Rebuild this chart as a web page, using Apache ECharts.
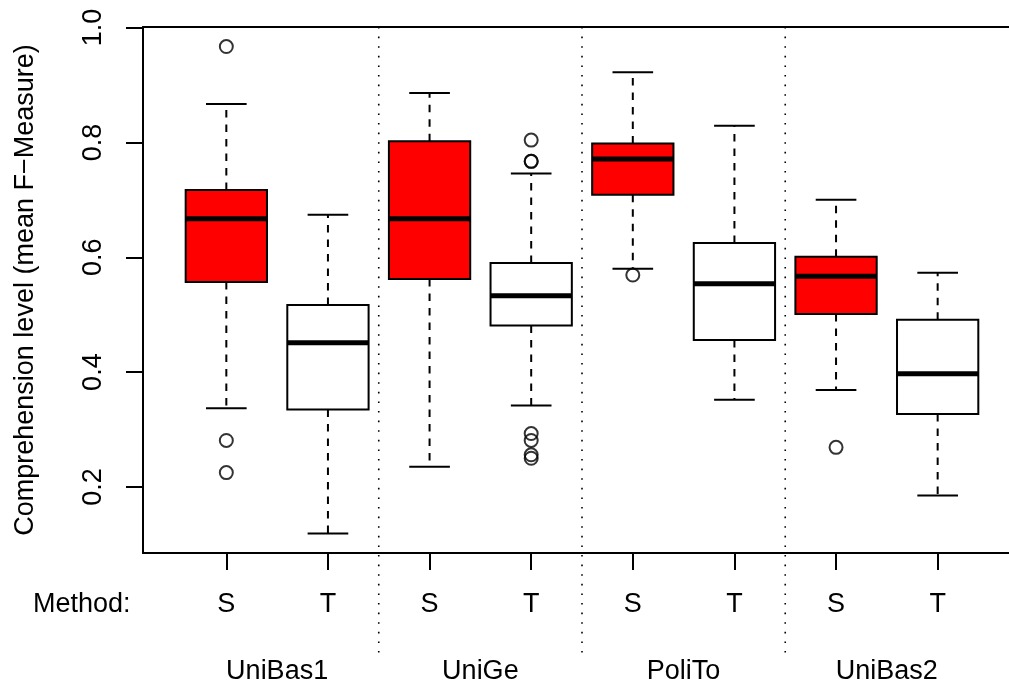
<!DOCTYPE html>
<html>
<head>
<meta charset="utf-8">
<script src="https://cdn.jsdelivr.net/npm/echarts@6/dist/echarts.min.js"></script>
<style>
  html, body { margin: 0; padding: 0; background: #fff; }
  #chart { width: 1009px; height: 686px; }
</style>
</head>
<body>
<div id="chart"></div>
<script>
// Comprehension level per site and method (five-number summaries + outliers)
const groups = ['UniBas1', 'UniGe', 'PoliTo', 'UniBas2'];
const methods = ['S', 'T', 'S', 'T', 'S', 'T', 'S', 'T'];
const isS = [1, 0, 1, 0, 1, 0, 1, 0];
const whiskerLow  = [0.337, 0.119, 0.235, 0.342, 0.580, 0.352, 0.369, 0.185];
const quart1      = [0.557, 0.335, 0.562, 0.481, 0.709, 0.456, 0.501, 0.327];
const medians     = [0.667, 0.451, 0.667, 0.533, 0.771, 0.554, 0.567, 0.397];
const quart3      = [0.717, 0.517, 0.802, 0.590, 0.798, 0.625, 0.601, 0.491];
const whiskerHigh = [0.867, 0.674, 0.886, 0.746, 0.922, 0.829, 0.700, 0.573];
// outliers: box position (1..8) and value
const outlierBox   = [1, 1, 1, 4, 4, 4, 4, 4, 4, 4, 5, 7];
const outlierValue = [0.967, 0.281, 0.225, 0.804, 0.767, 0.767, 0.293, 0.281, 0.256, 0.250, 0.569, 0.269];
const yTicks = [0.2, 0.4, 0.6, 0.8, 1.0];
const dividers = [2.5, 4.5, 6.5];

const FONT = '"Liberation Sans", Arial, Helvetica, sans-serif';
const FS = 27;

const boxData = methods.map((m, i) => [i + 1, whiskerLow[i], quart1[i], medians[i], quart3[i], whiskerHigh[i], isS[i]]);
const outlierData = outlierBox.map((b, i) => [b, outlierValue[i]]);
const dividerData = dividers.map(d => [d, 1.001]);

function renderBox(params, api) {
  const x = api.value(0);
  const lo = api.value(1), q1 = api.value(2), md = api.value(3), q3 = api.value(4), hi = api.value(5);
  const fill = api.value(6) ? '#ff0000' : '#ffffff';
  const hw = 0.4, cw = 0.2;
  const tl = api.coord([x - hw, q3]);
  const br = api.coord([x + hw, q1]);
  const stroke = { stroke: '#000', lineWidth: 2 };
  const dashed = { stroke: '#000', lineWidth: 2, lineDash: [7.5, 7] };
  const seg = (a, b, style) => {
    const p = api.coord(a), q = api.coord(b);
    return { type: 'line', shape: { x1: p[0], y1: p[1], x2: q[0], y2: q[1] }, style };
  };
  return {
    type: 'group',
    children: [
      seg([x, q3], [x, hi], dashed),
      seg([x, q1], [x, lo], dashed),
      seg([x - cw, hi], [x + cw, hi], stroke),
      seg([x - cw, lo], [x + cw, lo], stroke),
      { type: 'rect', shape: { x: tl[0], y: tl[1], width: br[0] - tl[0], height: br[1] - tl[1] },
        style: { fill, stroke: '#000', lineWidth: 2 } },
      seg([x - hw, md], [x + hw, md], { stroke: '#000', lineWidth: 5 })
    ]
  };
}

function renderDivider(params, api) {
  const top = api.coord([api.value(0), api.value(1)]);
  const bottom = params.coordSys.y + params.coordSys.height + 106;
  return {
    type: 'line',
    shape: { x1: top[0], y1: top[1], x2: top[0], y2: bottom },
    style: { stroke: '#000', lineWidth: 1.6, lineDash: [1.6, 8] }
  };
}

const frameLine = { show: true, lineStyle: { color: '#000', width: 2 } };

const chart = echarts.init(document.getElementById('chart'), null, { renderer: 'canvas' });
chart.setOption({
  animation: false,
  backgroundColor: '#fff',
  textStyle: { fontFamily: FONT },
  // plot region runs past the right edge of the page, so no right border is visible
  grid: { left: 143, top: 27, width: 866, height: 526, show: false },
  xAxis: [
    {
      type: 'value', min: 0.18, max: 8.702, position: 'bottom',
      axisLine: frameLine,
      splitLine: { show: false },
      axisTick: { show: true, customValues: [1, 2, 3, 4, 5, 6, 7, 8], length: 17, lineStyle: { color: '#000', width: 2 } },
      axisLabel: {
        customValues: [1, 2, 3, 4, 5, 6, 7, 8], margin: 38,
        color: '#000', fontSize: FS, fontFamily: FONT,
        formatter: v => methods[Math.round(v) - 1]
      }
    },
    {
      type: 'value', min: 0.18, max: 8.702, position: 'bottom',
      axisLine: { show: false }, axisTick: { show: false }, splitLine: { show: false },
      axisLabel: {
        customValues: [1.5, 3.5, 5.5, 7.5], margin: 105,
        color: '#000', fontSize: FS, fontFamily: FONT,
        formatter: v => groups[Math.round((v - 1.5) / 2)]
      }
    },
    {
      type: 'value', min: 0.18, max: 8.702, position: 'top',
      axisLine: frameLine, axisTick: { show: false }, axisLabel: { show: false }, splitLine: { show: false }
    }
  ],
  yAxis: {
    type: 'value', min: 0.085, max: 1.001,
    axisLine: frameLine,
    splitLine: { show: false },
    axisTick: { show: true, customValues: yTicks, length: 17, lineStyle: { color: '#000', width: 2 } },
    axisLabel: {
      customValues: yTicks, rotate: 90, margin: 36,
      color: '#000', fontSize: FS, fontFamily: FONT,
      formatter: v => v.toFixed(1)
    },
    name: 'Comprehension level (mean F\u2212Measure)',
    nameLocation: 'middle', nameRotate: 90, nameGap: 104,
    nameTextStyle: { color: '#000', fontSize: FS, fontFamily: FONT }
  },
  graphic: [
    { type: 'text', left: 33, top: 591, style: { text: 'Method:', font: FS + 'px ' + FONT, fill: '#000' } }
  ],
  series: [
    {
      type: 'custom', name: 'dividers', renderItem: renderDivider, data: dividerData,
      clip: false, z: 1, silent: true, encode: { x: 0, y: 1 }
    },
    {
      type: 'custom', name: 'boxes', renderItem: renderBox, data: boxData,
      z: 3, encode: { x: 0, y: [1, 2, 3, 4, 5] }
    },
    {
      type: 'scatter', name: 'outliers', data: outlierData, z: 4,
      symbol: 'circle', symbolSize: 13,
      itemStyle: { color: 'rgba(0,0,0,0)', borderColor: '#000', borderWidth: 2 }
    }
  ]
});
</script>
</body>
</html>
